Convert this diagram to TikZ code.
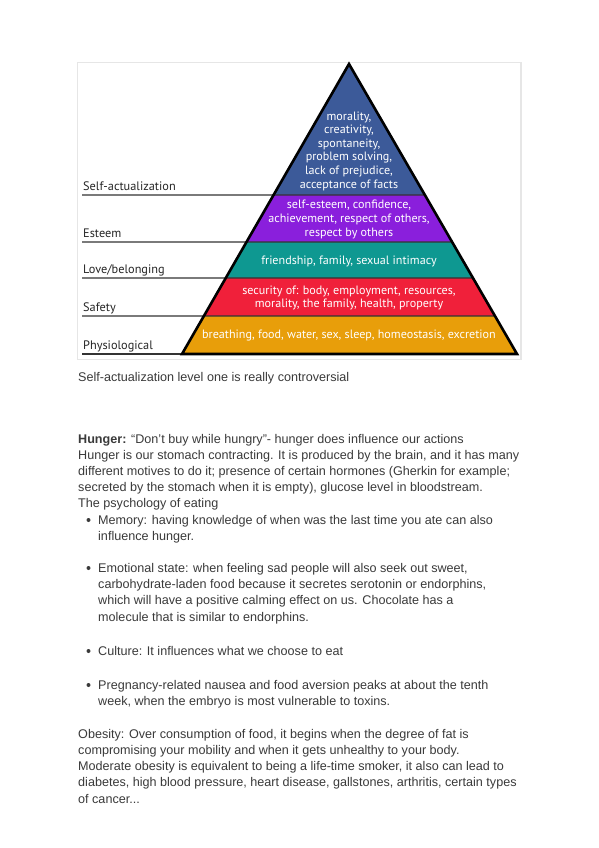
\documentclass[tikz,border=0pt]{standalone}
\usepackage{fontspec}
\setmainfont{Liberation Sans}
\newfontfamily\pyrfont{PT Sans}
\usetikzlibrary{calc}
\definecolor{framegray}{HTML}{E6E6E6}
\definecolor{lblue}{HTML}{3C5A99}
\definecolor{lpurple}{HTML}{8A1FDC}
\definecolor{lteal}{HTML}{0E9891}
\definecolor{lred}{HTML}{F0203A}
\definecolor{lorange}{HTML}{E89E0A}
\definecolor{bodytext}{HTML}{3A3A3A}
\definecolor{seplinec}{HTML}{333333}
\tikzset{
  layertext/.style={text=white, font=\pyrfont\fontsize{12.1}{13.6}\selectfont, align=center, inner sep=0pt},
  levellabel/.style={text=black!85, font=\pyrfont\fontsize{12.3}{13}\selectfont, anchor=base west, inner sep=0pt},
  sepline/.style={draw=seplinec, line width=1.3pt},
  bodyline/.style={text=bodytext, font=\fontsize{12.6}{16}\selectfont, anchor=base west, inner sep=0pt},
  bulletdot/.style={circle, fill=bodytext, inner sep=0pt, minimum size=4pt},
}
\begin{document}
\begin{tikzpicture}[x=1pt,y=-1pt]
\useasboundingbox (0,0) rectangle (599,848);
\fill[white] (0,0) rectangle (599,848);
% frame
\draw[framegray, line width=1.5pt] (77.5,62.5) rectangle (521,359.5);
% pyramid
\coordinate (A) at (349,64);
\coordinate (L) at (182,354);
\coordinate (R) at (517,354);
\coordinate (l1) at ($(A)!0.4517!(L)$); \coordinate (r1) at ($(A)!0.4517!(R)$);
\coordinate (l2) at ($(A)!0.6138!(L)$); \coordinate (r2) at ($(A)!0.6138!(R)$);
\coordinate (l3) at ($(A)!0.7379!(L)$); \coordinate (r3) at ($(A)!0.7379!(R)$);
\coordinate (l4) at ($(A)!0.8690!(L)$); \coordinate (r4) at ($(A)!0.8690!(R)$);
\fill[lblue] (A) -- (l1) -- (r1) -- cycle;
\fill[lpurple] (l1) -- (l2) -- (r2) -- (r1) -- cycle;
\fill[lteal] (l2) -- (l3) -- (r3) -- (r2) -- cycle;
\fill[lred] (l3) -- (l4) -- (r4) -- (r3) -- cycle;
\fill[lorange] (l4) -- (L) -- (R) -- (r4) -- cycle;
% label lines
\coordinate (s1) at (82,195);
\coordinate (s2) at (82,242);
\coordinate (s3) at (82,278);
\coordinate (s4) at (82,316);
\coordinate (s5) at (82,354);
\draw[sepline] (s1) -- (r1);
\draw[sepline] (s2) -- (r2);
\draw[sepline] (s3) -- (r3);
\draw[sepline] (s4) -- (r4);
\draw[sepline] (s5) -- (L);
\draw[black, line width=2.6pt, line join=miter] (A) -- (L) -- (R) -- cycle;
% layer texts
\node[layertext] (t1) at (349,151) {morality,\\creativity,\\spontaneity,\\problem solving,\\lack of prejudice,\\acceptance of facts};
\node[layertext] (t2) at (349,219.5) {self-esteem, confidence,\\achievement, respect of others,\\respect by others};
\node[layertext] (t3) at (349,261) {friendship, family, sexual intimacy};
\node[layertext] (t4) at (349,298) {security of: body, employment, resources,\\morality, the family, health, property};
\node[layertext] (t5) at (349,335) {breathing, food, water, sex, sleep, homeostasis, excretion};
% level labels
\node[levellabel] (n1) at (83,190) {Self-actualization};
\node[levellabel] (n2) at (83,237) {Esteem};
\node[levellabel] (n3) at (83,273.5) {Love/belonging};
\node[levellabel] (n4) at (83,311) {Safety};
\node[levellabel] (n5) at (83,349.5) {Physiological};
% body text
\node[bodyline] (c0) at (78,381) {Self-actualization level one is really controversial};
\node[bodyline] (h1) at (78,443) {\textbf{Hunger:} “Don’t buy while hungry”- hunger does influence our actions};
\node[bodyline] (h2) at (78,459) {Hunger is our stomach contracting. It is produced by the brain, and it has many};
\node[bodyline] (h3) at (78,475) {different motives to do it; presence of certain hormones (Gherkin for example;};
\node[bodyline] (h4) at (78,491) {secreted by the stomach when it is empty), glucose level in bloodstream.};
\node[bodyline] (h5) at (78,507) {The psychology of eating};
\node[bulletdot] (b1) at (88.5,520) {};
\node[bodyline] (m1) at (98,524) {Memory: having knowledge of when was the last time you ate can also};
\node[bodyline] (m2) at (98,540) {influence hunger.};
\node[bulletdot] (b2) at (88.5,568) {};
\node[bodyline] (e1) at (98,572) {Emotional state: when feeling sad people will also seek out sweet,};
\node[bodyline] (e2) at (98,588) {carbohydrate-laden food because it secretes serotonin or endorphins,};
\node[bodyline] (e3) at (98,604) {which will have a positive calming effect on us. Chocolate has a};
\node[bodyline] (e4) at (98,621) {molecule that is similar to endorphins.};
\node[bulletdot] (b3) at (88.5,651) {};
\node[bodyline] (u1) at (98,655) {Culture: It influences what we choose to eat};
\node[bulletdot] (b4) at (88.5,685) {};
\node[bodyline] (p1) at (98,689) {Pregnancy-related nausea and food aversion peaks at about the tenth};
\node[bodyline] (p2) at (98,705) {week, when the embryo is most vulnerable to toxins.};
\node[bodyline] (o1) at (78,738) {Obesity: Over consumption of food, it begins when the degree of fat is};
\node[bodyline] (o2) at (78,754) {compromising your mobility and when it gets unhealthy to your body.};
\node[bodyline] (o3) at (78,770) {Moderate obesity is equivalent to being a life-time smoker, it also can lead to};
\node[bodyline] (o4) at (78,786) {diabetes, high blood pressure, heart disease, gallstones, arthritis, certain types};
\node[bodyline] (o5) at (78,803) {of cancer...};
\end{tikzpicture}
\end{document}
